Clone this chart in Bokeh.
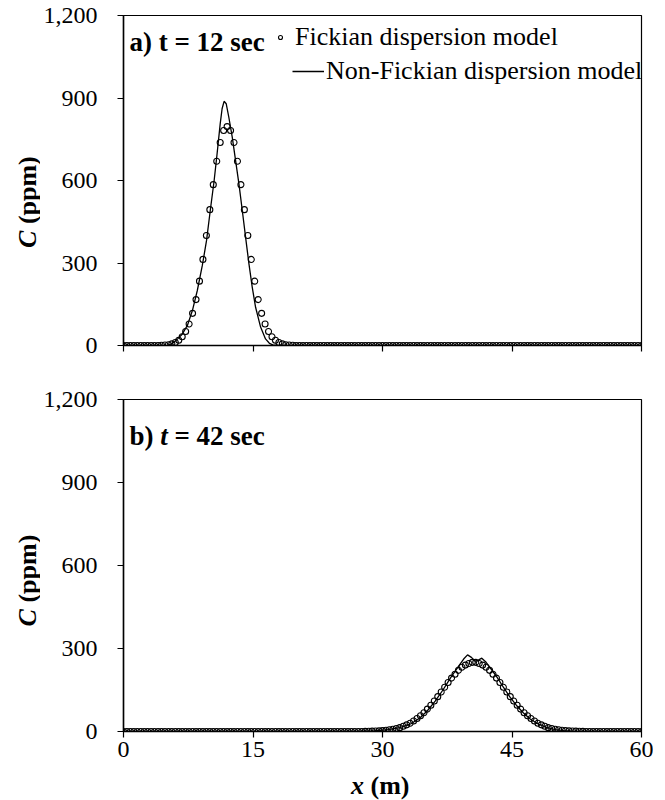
import numpy as np
from bokeh.plotting import figure
from bokeh.models import Legend, LegendItem, Label, NumeralTickFormatter, FixedTicker, Range1d
from bokeh.layouts import column, row
from bokeh.embed import file_html
from bokeh.resources import INLINE

FONT = "Liberation Serif"

# ---------------- data ----------------
x_ticks = [0, 15, 30, 45, 60]
y_ticks = [0, 300, 600, 900, 1200]

# Fickian model: sampled every 0.4 m from 0 to 60 m (151 points)
fick_x = np.linspace(0, 60, 151)

fick_t12 = [
    0, 0, 0, 0, 0, 0, 0, 0, 0, 0,
    0, 1, 2, 3, 6, 11, 19, 32, 51, 78,
    117, 167, 234, 313, 400, 494, 585, 670, 738, 782,
    796, 782, 738, 670, 585, 494, 400, 313, 234, 167,
    117, 78, 51, 32, 19, 11, 6, 3, 2, 1,
    0, 0, 0, 0, 0, 0, 0, 0, 0, 0,
    0, 0, 0, 0, 0, 0, 0, 0, 0, 0,
    0, 0, 0, 0, 0, 0, 0, 0, 0, 0,
    0, 0, 0, 0, 0, 0, 0, 0, 0, 0,
    0, 0, 0, 0, 0, 0, 0, 0, 0, 0,
    0, 0, 0, 0, 0, 0, 0, 0, 0, 0,
    0, 0, 0, 0, 0, 0, 0, 0, 0, 0,
    0, 0, 0, 0, 0, 0, 0, 0, 0, 0,
    0, 0, 0, 0, 0, 0, 0, 0, 0, 0,
    0, 0, 0, 0, 0, 0, 0, 0, 0, 0,
    0,
]

fick_t42 = [
    0, 0, 0, 0, 0, 0, 0, 0, 0, 0,
    0, 0, 0, 0, 0, 0, 0, 0, 0, 0,
    0, 0, 0, 0, 0, 0, 0, 0, 0, 0,
    0, 0, 0, 0, 0, 0, 0, 0, 0, 0,
    0, 0, 0, 0, 0, 0, 0, 0, 0, 0,
    0, 0, 0, 0, 0, 0, 0, 0, 0, 0,
    0, 0, 0, 0, 0, 0, 0, 0, 0, 0,
    0.5, 0.8, 1.2, 1.7, 2.3, 3.3, 4.5, 6.2, 8.3, 11,
    14, 19, 24, 30, 38, 47, 57, 68, 81, 95,
    110, 126, 143, 160, 177, 193, 207, 221, 232, 240,
    246, 250, 250, 246, 240, 232, 221, 207, 193, 177,
    160, 143, 126, 110, 95, 81, 68, 57, 47, 38,
    30, 24, 19, 14, 11, 8.3, 6.2, 4.5, 3.3, 2.3,
    1.7, 1.2, 0.8, 0.5, 0, 0, 0, 0, 0, 0,
    0, 0, 0, 0, 0, 0, 0, 0, 0, 0,
    0,
]

# Non-Fickian model (continuous curves)
nonfick_t12_x = [0, 5.0, 5.5, 5.85, 6.3, 6.82, 7.4, 7.98, 8.55, 9.13,
                 9.62, 10.05, 10.5, 10.85, 11.2, 11.42, 11.65, 11.9, 12.2, 12.6,
                 12.98, 13.37, 13.76, 14.14, 14.53, 14.91, 15.3, 15.88, 16.45, 16.9,
                 17.3, 17.8, 60]
nonfick_t12_c = [0, 0, 5, 12, 25, 42, 73, 127, 200, 291,
                 382, 491, 600, 700, 806, 861, 888, 879, 830, 757,
                 673, 588, 491, 394, 297, 212, 139, 67, 24, 8,
                 2, 0, 0]

nonfick_t42_x = [0, 27.0, 29.0, 30.5, 32.0, 33.3, 34.3, 35.2, 36.1, 37.0,
                 37.9, 38.8, 39.4, 39.85, 40.3, 40.75, 41.1, 41.5, 42.0, 42.6,
                 43.3, 44.0, 44.75, 45.5, 46.3, 47.1, 48.0, 49.0, 50.0, 51.0,
                 52.0, 53.0, 60]
nonfick_t42_c = [0, 0, 2, 6, 14, 28, 48, 75, 110, 150,
                 195, 235, 262, 277, 268, 254, 258, 265, 250, 225,
                 195, 160, 125, 95, 68, 45, 28, 15, 7, 3,
                 1, 0, 0]

legend_fick = "Fickian dispersion model"
legend_nonfick = "Non-Fickian dispersion model"

STRIP_W = 40
MAIN_W = 613
FRAME_LEFT = 121
TICK_FS = "24px"


# ---------------- figures ----------------
def make_fig(height, top, bottom, show_xlabels):
    p = figure(width=MAIN_W, height=height,
               x_range=Range1d(0, 60), y_range=Range1d(0, 1200),
               output_backend="svg", toolbar_location=None,
               min_border_left=FRAME_LEFT - STRIP_W, min_border_right=12,
               min_border_top=top, min_border_bottom=bottom)
    p.xgrid.visible = False
    p.ygrid.visible = False
    p.outline_line_color = "black"
    p.outline_line_width = 1.2
    p.background_fill_color = "white"
    p.border_fill_color = "white"
    for ax in (p.xaxis[0], p.yaxis[0]):
        ax.axis_line_color = "black"
        ax.axis_line_width = 1.5
        ax.major_tick_line_color = "black"
        ax.major_tick_line_width = 1.2
        ax.major_tick_in = 0
        ax.minor_tick_line_color = None
        ax.major_label_text_font = FONT
        ax.major_label_text_font_size = TICK_FS
        ax.major_label_text_color = "black"
    p.yaxis.ticker = FixedTicker(ticks=y_ticks)
    p.yaxis.formatter = NumeralTickFormatter(format="0,0")
    p.yaxis.major_tick_out = 6
    p.yaxis.major_label_standoff = 20
    if show_xlabels:
        p.xaxis.ticker = FixedTicker(ticks=x_ticks)
        p.xaxis.major_tick_out = 6
        p.xaxis.major_label_standoff = 4
    else:
        # tick marks only (no labels) on the upper panel
        p.xaxis.ticker = FixedTicker(ticks=[], minor_ticks=x_ticks)
        p.xaxis.minor_tick_line_color = "black"
        p.xaxis.minor_tick_line_width = 1.2
        p.xaxis.minor_tick_in = 0
        p.xaxis.minor_tick_out = 6
    return p


def strip(width, height):
    s = figure(width=width, height=height, x_range=Range1d(0, width), y_range=Range1d(0, height),
               output_backend="svg", toolbar_location=None, x_axis_type=None, y_axis_type=None,
               min_border_left=0, min_border_right=0, min_border_top=0, min_border_bottom=0)
    s.xgrid.visible = False
    s.ygrid.visible = False
    s.outline_line_color = None
    s.background_fill_color = "white"
    s.border_fill_color = "white"
    return s


def ylabel_strip(height, y0):
    s = strip(STRIP_W, height)
    s.add_layout(Label(x=26.5, y=y0, text="C", angle=np.pi / 2,
                       text_font=FONT, text_font_style="bold italic", text_font_size="26px",
                       text_align="left", text_baseline="middle", text_color="black"))
    s.add_layout(Label(x=26.5, y=y0, y_offset=23.8, text="(ppm)", angle=np.pi / 2,
                       text_font=FONT, text_font_style="bold", text_font_size="26px",
                       text_align="left", text_baseline="middle", text_color="black"))
    return s


H1 = 372   # 15 top + 330 frame + 27 bottom
H2 = 398   # 27 top + 332 frame + 39 bottom
H3 = 800 - H1 - H2   # 30

p1 = make_fig(H1, 15, 27, False)
p2 = make_fig(H2, 27, 39, True)

# panel a
r_f1 = p1.scatter(fick_x, fick_t12, marker="circle", size=6, fill_color=None,
                  line_color="black", line_width=1.1)
r_n1 = p1.line(nonfick_t12_x, nonfick_t12_c, line_color="black", line_width=1.3)

# panel b
p2.scatter(fick_x, fick_t42, marker="circle", size=6, fill_color=None,
           line_color="black", line_width=1.1)
p2.line(nonfick_t42_x, nonfick_t42_c, line_color="black", line_width=1.3)

common_leg = dict(border_line_color=None, background_fill_alpha=0, padding=0, margin=0,
                  spacing=0, label_text_font=FONT, label_text_font_size="26px",
                  label_text_color="black", label_height=20, glyph_height=20)
leg1 = Legend(items=[LegendItem(label=legend_fick, renderers=[r_f1])],
              location=(152, 293), glyph_width=10, label_standoff=10, **common_leg)
leg2 = Legend(items=[LegendItem(label=legend_nonfick, renderers=[r_n1])],
              location=(169, 259), glyph_width=32, label_standoff=2, **common_leg)
p1.add_layout(leg1)
p1.add_layout(leg2)

p1.add_layout(Label(x=0.69, y=1102, text="a) t = 12 sec", text_font=FONT,
                    text_font_style="bold", text_font_size="27px",
                    text_align="left", text_baseline="middle", text_color="black"))

for txt, off, style in (("b)", 0, "bold"), ("t", 30.75, "bold italic"), ("= 42 sec", 45.0, "bold")):
    p2.add_layout(Label(x=0.69, y=1067, x_offset=off, text=txt, text_font=FONT,
                        text_font_style=style, text_font_size="27px",
                        text_align="left", text_baseline="middle", text_color="black"))

s1 = ylabel_strip(H1, H1 - 248 - 14)
s2 = ylabel_strip(H2, H1 + H2 - 630 - 14)

s3 = strip(STRIP_W + MAIN_W, H3)
s3.add_layout(Label(x=350.5, y=15.5, text="x", text_font=FONT, text_font_style="bold italic",
                    text_font_size="26px", text_align="left", text_baseline="alphabetic",
                    text_color="black"))
s3.add_layout(Label(x=350.5, y=15.5, x_offset=19.5, text="(m)", text_font=FONT,
                    text_font_style="bold", text_font_size="26px", text_align="left",
                    text_baseline="alphabetic", text_color="black"))

layout = column(row(s1, p1), row(s2, p2), s3)
open("out.html", "w").write(file_html(layout, INLINE))
